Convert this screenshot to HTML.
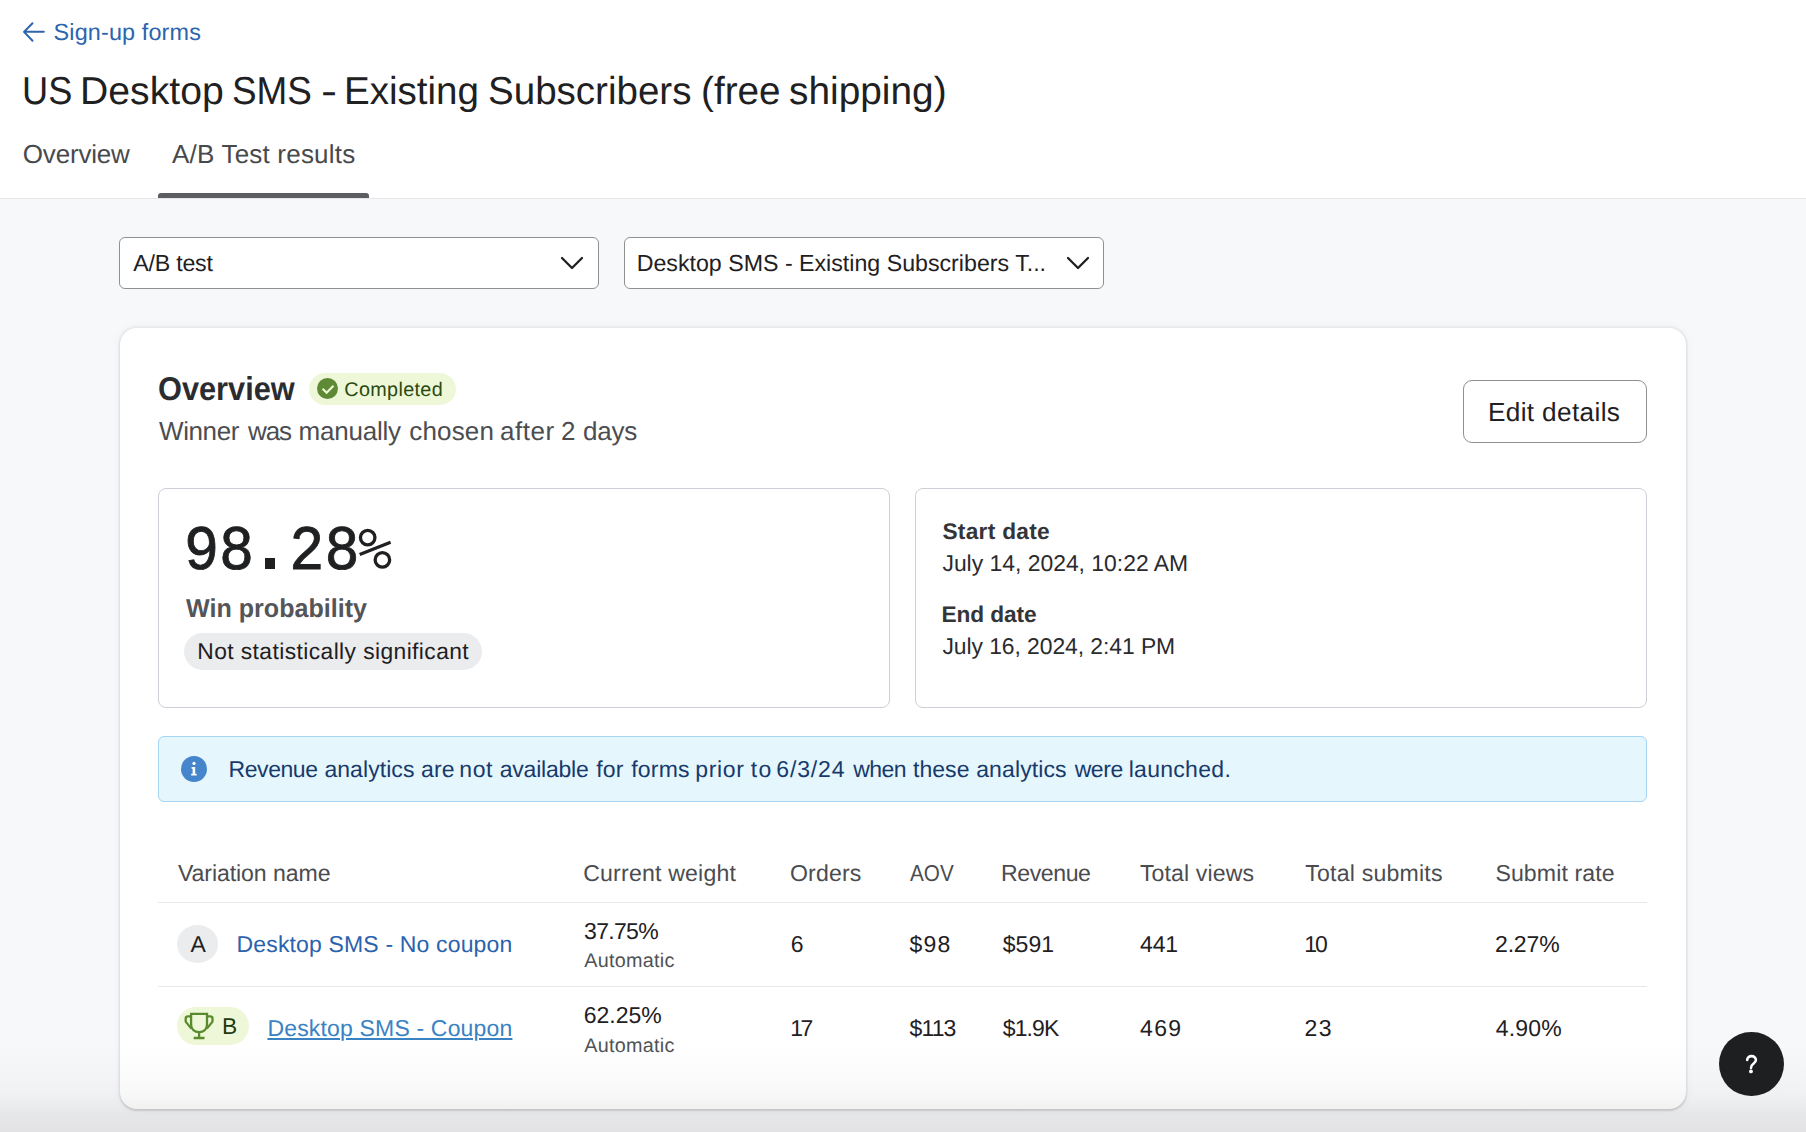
<!DOCTYPE html>
<html><head><meta charset="utf-8"><title>A/B Test results</title>
<style>
*{box-sizing:border-box;margin:0;padding:0}
html,body{width:1806px;height:1132px;overflow:hidden}
body{background:#f7f8fa;position:relative;font-family:"Liberation Sans",sans-serif;text-rendering:geometricPrecision}
.t{position:absolute;white-space:nowrap}
.abs{position:absolute}
#hdr{left:0;top:0;width:1806px;height:199px;background:#fff;border-bottom:1px solid #e4e6e9}
#tabline{left:158px;top:193px;width:211px;height:5px;background:#5c5d60;border-radius:3px 3px 0 0}
.dd{top:237px;height:52px;width:480px;background:#fff;border:1.3px solid #8e9094;border-radius:6px}
#card{left:120.2px;top:328.3px;width:1566px;height:780.4px;background:#fff;border-radius:17px;box-shadow:0 0 0 2px rgba(150,155,165,0.10),0 1.5px 2px 0 rgba(20,25,40,0.12),0 0 10px 2px rgba(20,25,40,0.03)}
#badge1{left:309px;top:373px;width:147px;height:32px;border-radius:16px;background:#eef8d8}
#editbtn{left:1463px;top:379.5px;width:184px;height:63px;border:1.3px solid #8e9094;border-radius:9px;background:#fff}
.stat{top:488px;height:220px;width:732px;border:1.3px solid #cdd0d6;border-radius:8px;background:#fff}
#badge2{left:184px;top:632.5px;width:298px;height:37px;border-radius:18.5px;background:#ebecee}
#banner{left:158px;top:736px;width:1489px;height:66px;background:#e5f6fd;border:1.3px solid #a6d4f3;border-radius:6px}
.hl{left:158px;width:1489px;height:1.3px;background:#e6e8eb}
#circA{left:177.1px;top:925.1px;width:40.9px;height:37.6px;border-radius:50%;background:#ebecee}
#badgeB{left:177px;top:1007px;width:72px;height:38px;border-radius:19px;background:#eef8d8}
#help{left:1719px;top:1031.5px;width:64.6px;height:64.4px;border-radius:50%;background:#1e1f21}
#fade{left:0;top:1044px;width:1806px;height:88px;background:linear-gradient(to bottom,rgba(45,40,35,0) 0%,rgba(45,40,35,0.006) 18%,rgba(45,40,35,0.02) 41%,rgba(45,40,35,0.036) 58%,rgba(45,40,35,0.066) 74%,rgba(45,40,35,0.08) 78%,rgba(45,40,35,0.095) 91%,rgba(45,40,35,0.105) 100%);pointer-events:none}
</style></head>
<body>
<div class="abs" id="hdr"></div>
<svg class="abs" style="left:22px;top:21px" width="24" height="22" viewBox="0 0 24 22"><path d="M21.8 10.8H2.5M10.5 2.2L2 10.9l8.5 8.8" fill="none" stroke="#2c64ad" stroke-width="2" stroke-linecap="round" stroke-linejoin="round"/></svg>
<div class="t" id="signup" style="top:21.28px;font-family:'Liberation Sans';font-weight:400;font-size:23.4px;line-height:23.4px;color:#2c64ad;left:53.57px;letter-spacing:0.142px;">Sign-up forms</div>
<div class="t" id="tw0" style="top:73.07px;font-family:'Liberation Sans';font-weight:400;font-size:38.9px;line-height:38.9px;color:#1f2022;left:21.94px;transform:scaleX(0.9305);transform-origin:0 0;">US</div><div class="t" id="tw1" style="top:73.07px;font-family:'Liberation Sans';font-weight:400;font-size:38.9px;line-height:38.9px;color:#1f2022;left:79.94px;transform:scaleX(1.0073);transform-origin:0 0;">Desktop</div><div class="t" id="tw2" style="top:73.07px;font-family:'Liberation Sans';font-weight:400;font-size:38.9px;line-height:38.9px;color:#1f2022;left:231.75px;transform:scaleX(0.9479);transform-origin:0 0;">SMS</div><div class="t" id="tw3" style="top:73.07px;font-family:'Liberation Sans';font-weight:400;font-size:38.9px;line-height:38.9px;color:#1f2022;left:320.59px;transform:scaleX(1.2388);transform-origin:0 0;">-</div><div class="t" id="tw4" style="top:73.07px;font-family:'Liberation Sans';font-weight:400;font-size:38.9px;line-height:38.9px;color:#1f2022;left:344.49px;transform:scaleX(0.9910);transform-origin:0 0;">Existing</div><div class="t" id="tw5" style="top:73.07px;font-family:'Liberation Sans';font-weight:400;font-size:38.9px;line-height:38.9px;color:#1f2022;left:487.80px;transform:scaleX(0.9909);transform-origin:0 0;">Subscribers</div><div class="t" id="tw6" style="top:73.07px;font-family:'Liberation Sans';font-weight:400;font-size:38.9px;line-height:38.9px;color:#1f2022;left:701.09px;transform:scaleX(0.9950);transform-origin:0 0;">(free</div><div class="t" id="tw7" style="top:73.07px;font-family:'Liberation Sans';font-weight:400;font-size:38.9px;line-height:38.9px;color:#1f2022;left:789.09px;transform:scaleX(0.9985);transform-origin:0 0;">shipping)</div>
<div class="t" id="tab1" style="top:140.99px;font-family:'Liberation Sans';font-weight:400;font-size:26.0px;line-height:26.0px;color:#48494c;left:22.78px;letter-spacing:-0.179px;">Overview</div>
<div class="t" id="tab2" style="top:140.99px;font-family:'Liberation Sans';font-weight:400;font-size:26.0px;line-height:26.0px;color:#48494c;left:172.00px;letter-spacing:0.200px;">A/B Test results</div>
<div class="abs" id="tabline"></div>

<div class="abs dd" style="left:119px"></div>
<div class="t" id="dd1" style="top:252.42px;font-family:'Liberation Sans';font-weight:400;font-size:23.2px;line-height:23.2px;color:#1f2022;left:133.30px;letter-spacing:-0.230px;">A/B test</div>
<svg class="abs" style="left:558px;top:254px" width="28" height="18" viewBox="0 0 28 18"><path d="M4 4l10 10L24 4" fill="none" stroke="#1f2022" stroke-width="2.3" stroke-linecap="round" stroke-linejoin="round"/></svg>
<div class="abs dd" style="left:624px"></div>
<div class="t" id="dd2" style="top:252.42px;font-family:'Liberation Sans';font-weight:400;font-size:23.2px;line-height:23.2px;color:#1f2022;left:636.69px;">Desktop SMS - Existing Subscribers T...</div>
<svg class="abs" style="left:1063.5px;top:254px" width="28" height="18" viewBox="0 0 28 18"><path d="M4 4l10 10L24 4" fill="none" stroke="#1f2022" stroke-width="2.3" stroke-linecap="round" stroke-linejoin="round"/></svg>

<div class="abs" id="card"></div>
<div class="t" id="ov" style="top:372.07px;font-family:'Liberation Sans';font-weight:700;font-size:33px;line-height:33px;color:#2b2c2f;left:158.14px;transform:scaleX(0.9318);transform-origin:0 0;">Overview</div>
<div class="abs" id="badge1"></div>
<svg class="abs" style="left:317px;top:377.7px" width="21" height="21" viewBox="0 0 21 21"><circle cx="10.5" cy="10.5" r="10.5" fill="#5e8a36"/><path d="M5.6 10.8l4 4 6.9-7" fill="none" stroke="#eef8d8" stroke-width="2.1"/></svg>
<div class="t" id="completed" style="top:381.27px;font-family:'Liberation Sans';font-weight:400;font-size:19.8px;line-height:19.8px;color:#2a4a12;left:344.27px;letter-spacing:0.349px;">Completed</div>
<div class="t" id="wn0" style="top:417.99px;font-family:'Liberation Sans';font-weight:400;font-size:26px;line-height:26px;color:#4c4d50;left:159.00px;letter-spacing:-0.386px;">Winner</div><div class="t" id="wn1" style="top:417.99px;font-family:'Liberation Sans';font-weight:400;font-size:26px;line-height:26px;color:#4c4d50;left:248.01px;letter-spacing:-1.115px;">was</div><div class="t" id="wn2" style="top:417.99px;font-family:'Liberation Sans';font-weight:400;font-size:26px;line-height:26px;color:#4c4d50;left:298.57px;letter-spacing:-0.218px;">manually</div><div class="t" id="wn3" style="top:417.99px;font-family:'Liberation Sans';font-weight:400;font-size:26px;line-height:26px;color:#4c4d50;left:409.29px;letter-spacing:0.147px;">chosen</div><div class="t" id="wn4" style="top:417.99px;font-family:'Liberation Sans';font-weight:400;font-size:26px;line-height:26px;color:#4c4d50;left:499.89px;letter-spacing:0.554px;">after</div><div class="t" id="wn5" style="top:417.99px;font-family:'Liberation Sans';font-weight:400;font-size:26px;line-height:26px;color:#4c4d50;left:561.08px;">2</div><div class="t" id="wn6" style="top:417.99px;font-family:'Liberation Sans';font-weight:400;font-size:26px;line-height:26px;color:#4c4d50;left:582.99px;letter-spacing:-0.232px;">days</div>
<div class="abs" id="editbtn"></div>
<div class="t" id="edit" style="top:398.82px;font-family:'Liberation Sans';font-weight:400;font-size:26.2px;line-height:26.2px;color:#1f2022;left:1487.95px;letter-spacing:0.355px;">Edit details</div>

<div class="abs stat" style="left:158px"></div>
<div class="t" style="left:183.98px;top:520.8px;font:400 63.2px/63.2px 'Liberation Mono';color:#1f2022;transform:scaleX(0.9256);transform-origin:0 0;-webkit-text-stroke:0.9px #1f2022">98 28</div>
<div class="abs" style="left:264.5px;top:557.8px;width:10.3px;height:11px;background:#1f2022"></div>
<svg class="abs" style="left:355px;top:524px" width="40" height="48" viewBox="0 0 40 48"><g fill="none" stroke="#1f2022" stroke-width="3.3"><circle cx="12.7" cy="13.6" r="7.25"/><circle cx="27.4" cy="35.9" r="7.25"/><path d="M4.7 30.5L35.6 18.2"/></g></svg>
<div class="t" id="winprob" style="top:597.08px;font-family:'Liberation Sans';font-weight:700;font-size:25.9px;line-height:25.9px;color:#545558;left:185.50px;transform:scaleX(0.9691);transform-origin:0 0;">Win probability</div>
<div class="abs" id="badge2"></div>
<div class="t" id="notstat" style="top:639.70px;font-family:'Liberation Sans';font-weight:400;font-size:22.8px;line-height:22.8px;color:#1f2022;left:197.32px;letter-spacing:0.416px;">Not statistically significant</div>
<div class="abs stat" style="left:915px"></div>
<div class="t" id="start" style="top:519.78px;font-family:'Liberation Sans';font-weight:700;font-size:22.7px;line-height:22.7px;color:#343538;left:942.45px;letter-spacing:0.291px;">Start date</div>
<div class="t" id="d1" style="top:551.62px;font-family:'Liberation Sans';font-weight:400;font-size:22.9px;line-height:22.9px;color:#2a2b2d;left:942.44px;">July 14, 2024, 10:22 AM</div>
<div class="t" id="end" style="top:602.78px;font-family:'Liberation Sans';font-weight:700;font-size:22.7px;line-height:22.7px;color:#343538;left:941.38px;letter-spacing:-0.081px;">End date</div>
<div class="t" id="d2" style="top:634.62px;font-family:'Liberation Sans';font-weight:400;font-size:22.9px;line-height:22.9px;color:#2a2b2d;left:942.44px;letter-spacing:-0.068px;">July 16, 2024, 2:41 PM</div>

<div class="abs" id="banner"></div>
<svg class="abs" style="left:181px;top:755.7px" width="26" height="26" viewBox="0 0 26 26"><circle cx="13" cy="13" r="13" fill="#4585cb"/><circle cx="13" cy="7.4" r="1.6" fill="#fff"/><path d="M10.6 11h3.6v6.8h1.4v1.7h-5.4v-1.7h1.4v-5h-1z" fill="#fff"/></svg>
<div class="t" id="rv0" style="top:757.55px;font-family:'Liberation Sans';font-weight:400;font-size:23px;line-height:23px;color:#173a6b;left:228.50px;letter-spacing:-0.423px;">Revenue</div><div class="t" id="rv1" style="top:757.55px;font-family:'Liberation Sans';font-weight:400;font-size:23px;line-height:23px;color:#173a6b;left:324.38px;letter-spacing:0.069px;">analytics</div><div class="t" id="rv2" style="top:757.55px;font-family:'Liberation Sans';font-weight:400;font-size:23px;line-height:23px;color:#173a6b;left:420.98px;letter-spacing:0.154px;">are</div><div class="t" id="rv3" style="top:757.55px;font-family:'Liberation Sans';font-weight:400;font-size:23px;line-height:23px;color:#173a6b;left:459.26px;letter-spacing:0.593px;">not</div><div class="t" id="rv4" style="top:757.55px;font-family:'Liberation Sans';font-weight:400;font-size:23px;line-height:23px;color:#173a6b;left:499.78px;letter-spacing:-0.230px;">available</div><div class="t" id="rv5" style="top:757.55px;font-family:'Liberation Sans';font-weight:400;font-size:23px;line-height:23px;color:#173a6b;left:596.30px;letter-spacing:0.136px;">for</div><div class="t" id="rv6" style="top:757.55px;font-family:'Liberation Sans';font-weight:400;font-size:23px;line-height:23px;color:#173a6b;left:631.20px;letter-spacing:0.205px;">forms</div><div class="t" id="rv7" style="top:757.55px;font-family:'Liberation Sans';font-weight:400;font-size:23px;line-height:23px;color:#173a6b;left:695.36px;letter-spacing:0.635px;">prior</div><div class="t" id="rv8" style="top:757.55px;font-family:'Liberation Sans';font-weight:400;font-size:23px;line-height:23px;color:#173a6b;left:750.80px;letter-spacing:1.250px;">to</div><div class="t" id="rv9" style="top:757.55px;font-family:'Liberation Sans';font-weight:400;font-size:23px;line-height:23px;color:#173a6b;left:776.32px;letter-spacing:0.841px;">6/3/24</div><div class="t" id="rv10" style="top:757.55px;font-family:'Liberation Sans';font-weight:400;font-size:23px;line-height:23px;color:#173a6b;left:853.16px;letter-spacing:-0.517px;">when</div><div class="t" id="rv11" style="top:757.55px;font-family:'Liberation Sans';font-weight:400;font-size:23px;line-height:23px;color:#173a6b;left:913.10px;letter-spacing:0.017px;">these</div><div class="t" id="rv12" style="top:757.55px;font-family:'Liberation Sans';font-weight:400;font-size:23px;line-height:23px;color:#173a6b;left:976.18px;letter-spacing:0.119px;">analytics</div><div class="t" id="rv13" style="top:757.55px;font-family:'Liberation Sans';font-weight:400;font-size:23px;line-height:23px;color:#173a6b;left:1074.66px;letter-spacing:-0.393px;">were</div><div class="t" id="rv14" style="top:757.55px;font-family:'Liberation Sans';font-weight:400;font-size:23px;line-height:23px;color:#173a6b;left:1128.66px;letter-spacing:0.296px;">launched.</div>

<div class="t" id="h1" style="top:862.48px;font-family:'Liberation Sans';font-weight:400;font-size:23.1px;line-height:23.1px;color:#4b4c4f;left:177.90px;letter-spacing:-0.079px;">Variation name</div><div class="t" id="h2" style="top:862.48px;font-family:'Liberation Sans';font-weight:400;font-size:23.1px;line-height:23.1px;color:#4b4c4f;left:583.22px;letter-spacing:0.191px;">Current weight</div><div class="t" id="h3" style="top:862.48px;font-family:'Liberation Sans';font-weight:400;font-size:23.1px;line-height:23.1px;color:#4b4c4f;left:789.92px;letter-spacing:0.182px;">Orders</div><div class="t" id="h4" style="top:862.48px;font-family:'Liberation Sans';font-weight:400;font-size:23.1px;line-height:23.1px;color:#4b4c4f;left:909.60px;transform:scaleX(0.8958);transform-origin:0 0;">AOV</div><div class="t" id="h5" style="top:862.48px;font-family:'Liberation Sans';font-weight:400;font-size:23.1px;line-height:23.1px;color:#4b4c4f;left:1001.00px;letter-spacing:-0.421px;">Revenue</div><div class="t" id="h6" style="top:862.48px;font-family:'Liberation Sans';font-weight:400;font-size:23.1px;line-height:23.1px;color:#4b4c4f;left:1139.94px;letter-spacing:0.121px;">Total views</div><div class="t" id="h7" style="top:862.48px;font-family:'Liberation Sans';font-weight:400;font-size:23.1px;line-height:23.1px;color:#4b4c4f;left:1305.34px;letter-spacing:0.199px;">Total submits</div><div class="t" id="h8" style="top:862.48px;font-family:'Liberation Sans';font-weight:400;font-size:23.1px;line-height:23.1px;color:#4b4c4f;left:1495.38px;letter-spacing:0.114px;">Submit rate</div>
<div class="abs hl" style="top:902px"></div>
<div class="abs" id="circA"></div>
<div class="t" id="a" style="top:932.55px;font-family:'Liberation Sans';font-weight:400;font-size:23px;line-height:23px;color:#1f2022;left:190.60px;">A</div>
<div class="t" id="l1" style="top:932.55px;font-family:'Liberation Sans';font-weight:400;font-size:23px;line-height:23px;color:#2b62ad;left:236.50px;letter-spacing:0.159px;">Desktop SMS - No coupon</div>
<div class="t" id="p1" style="top:919.55px;font-family:'Liberation Sans';font-weight:400;font-size:23px;line-height:23px;color:#1f2022;left:584.08px;letter-spacing:-0.681px;">37.75%</div><div class="t" id="au1" style="top:952.27px;font-family:'Liberation Sans';font-weight:400;font-size:19.8px;line-height:19.8px;color:#505255;left:584.30px;letter-spacing:0.272px;">Automatic</div>
<div class="t" id="r1c3" style="top:932.55px;font-family:'Liberation Sans';font-weight:400;font-size:23px;line-height:23px;color:#1f2022;left:790.72px;">6</div><div class="t" id="r1c4" style="top:932.55px;font-family:'Liberation Sans';font-weight:400;font-size:23px;line-height:23px;color:#1f2022;left:909.60px;letter-spacing:1.179px;">$98</div><div class="t" id="r1c5" style="top:932.55px;font-family:'Liberation Sans';font-weight:400;font-size:23px;line-height:23px;color:#1f2022;left:1002.80px;letter-spacing:0.022px;">$591</div><div class="t" id="r1c6" style="top:932.55px;font-family:'Liberation Sans';font-weight:400;font-size:23px;line-height:23px;color:#1f2022;left:1139.94px;letter-spacing:-0.092px;">441</div><div class="t" id="r1c7" style="top:932.55px;font-family:'Liberation Sans';font-weight:400;font-size:23px;line-height:23px;color:#1f2022;left:1304.26px;letter-spacing:-2.073px;">10</div><div class="t" id="r1c8" style="top:932.55px;font-family:'Liberation Sans';font-weight:400;font-size:23px;line-height:23px;color:#1f2022;left:1495.02px;letter-spacing:-0.163px;">2.27%</div>
<div class="abs hl" style="top:986px"></div>
<div class="abs" id="badgeB"></div>
<svg class="abs" style="left:180px;top:1008px" width="40" height="36" viewBox="0 0 40 36"><g fill="none" stroke="#5a8a2e" stroke-width="2.3"><path d="M11.1 5V16.6C11.1 21.4 14.5 24.2 19.1 24.2C23.7 24.2 27 21.4 27 16.6V5M10 5.9H28.2"/><path d="M19.1 25V29.2M13.7 30H24.5"/><path d="M10.6 8.3H7.9Q5.7 8.3 5.7 10.5V13.6L11.3 20.6M27.6 8.3H30.3Q32.5 8.3 32.5 10.5V13.6L26.9 20.6" stroke-linejoin="round"/></g></svg>
<div class="t" id="b" style="top:1014.70px;font-family:'Liberation Sans';font-weight:400;font-size:22.8px;line-height:22.8px;color:#1d3a0e;left:222.02px;">B</div>
<div class="t" id="l2" style="top:1016.55px;font-family:'Liberation Sans';font-weight:400;font-size:23px;line-height:23px;color:#3a82c2;left:267.40px;letter-spacing:0.172px;text-decoration:underline;text-underline-offset:2px;text-decoration-thickness:1.5px;">Desktop SMS - Coupon</div>
<div class="t" id="p2" style="top:1004.05px;font-family:'Liberation Sans';font-weight:400;font-size:23px;line-height:23px;color:#1f2022;left:583.72px;">62.25%</div><div class="t" id="au2" style="top:1036.77px;font-family:'Liberation Sans';font-weight:400;font-size:19.8px;line-height:19.8px;color:#505255;left:584.30px;letter-spacing:0.272px;">Automatic</div>
<div class="t" id="r2c3" style="top:1016.55px;font-family:'Liberation Sans';font-weight:400;font-size:23px;line-height:23px;color:#1f2022;left:790.36px;letter-spacing:-2.613px;">17</div><div class="t" id="r2c4" style="top:1016.55px;font-family:'Liberation Sans';font-weight:400;font-size:23px;line-height:23px;color:#1f2022;left:909.60px;letter-spacing:-0.909px;">$113</div><div class="t" id="r2c5" style="top:1016.55px;font-family:'Liberation Sans';font-weight:400;font-size:23px;line-height:23px;color:#1f2022;left:1002.80px;letter-spacing:-0.890px;">$1.9K</div><div class="t" id="r2c6" style="top:1016.55px;font-family:'Liberation Sans';font-weight:400;font-size:23px;line-height:23px;color:#1f2022;left:1139.94px;letter-spacing:1.408px;">469</div><div class="t" id="r2c7" style="top:1016.55px;font-family:'Liberation Sans';font-weight:400;font-size:23px;line-height:23px;color:#1f2022;left:1304.62px;letter-spacing:1.327px;">23</div><div class="t" id="r2c8" style="top:1016.55px;font-family:'Liberation Sans';font-weight:400;font-size:23px;line-height:23px;color:#1f2022;left:1495.84px;letter-spacing:0.182px;">4.90%</div>

<div class="abs" id="fade"></div>
<div class="abs" id="help"></div>
<svg class="abs" style="left:1740px;top:1050px" width="24" height="28" viewBox="0 0 24 28"><path d="M7.2 10C7.2 7.6 9.1 6.1 11.5 6.1C14 6.1 15.9 7.7 15.9 10C15.9 12.1 14.5 13 13.1 14.1C11.8 15.1 11 16 11 17.9" fill="none" stroke="#fff" stroke-width="2.6" stroke-linecap="round"/><circle cx="10.95" cy="21.4" r="1.95" fill="#fff"/></svg>
</body></html>
